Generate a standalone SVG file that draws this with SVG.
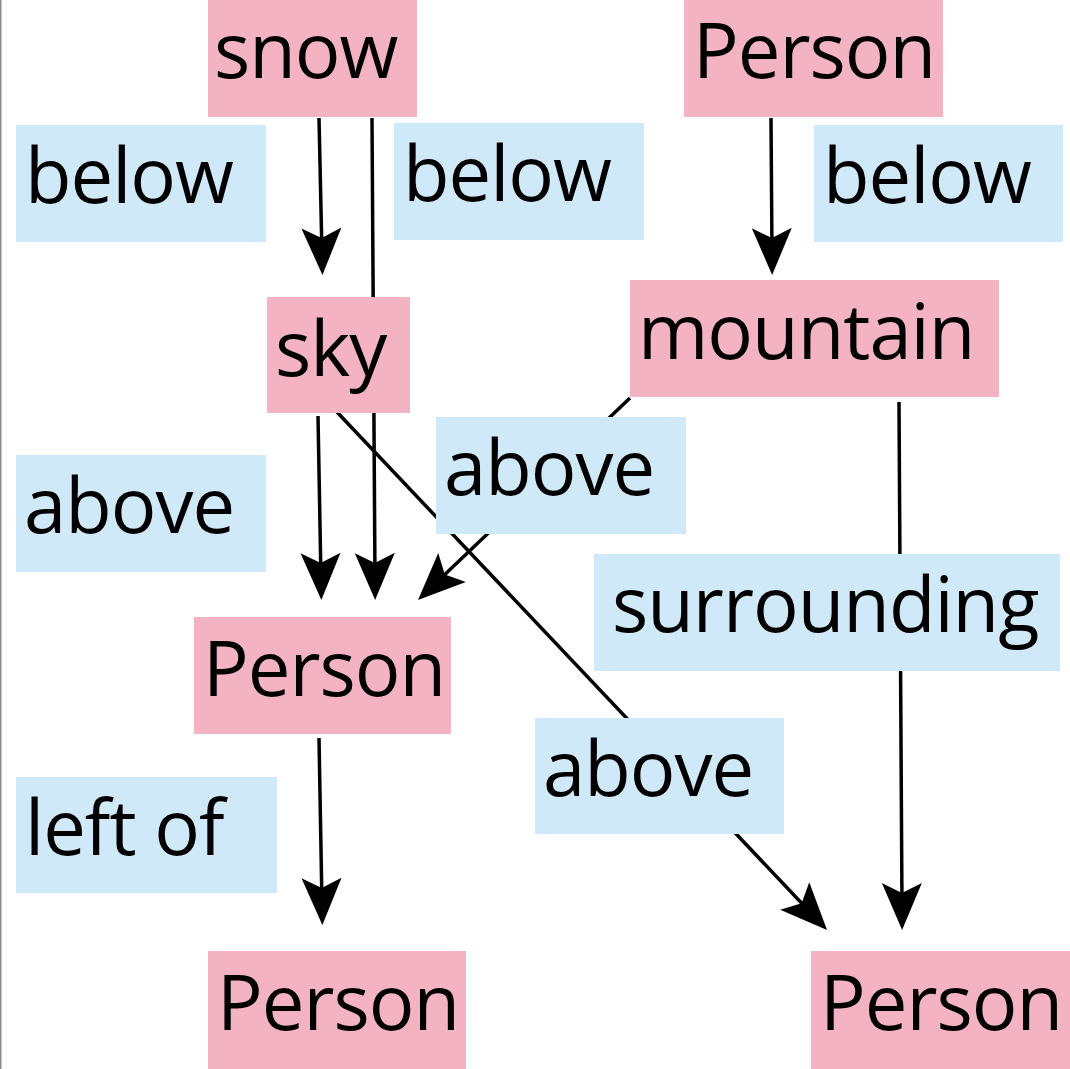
<svg xmlns="http://www.w3.org/2000/svg" width="1070" height="1069" viewBox="0 0 1070 1069">
<style>
.node{fill:#F4B3C2}
.lbl{fill:#D0E9F9}
.t{font-family:"Open Sans","Noto Sans","Liberation Sans",sans-serif;font-size:76px;letter-spacing:-1px;fill:#000}
.e{stroke:#000;stroke-width:3.5;fill:none;marker-end:url(#ah)}
</style>
<defs>
<marker id="ah" markerUnits="userSpaceOnUse" markerWidth="52" markerHeight="46" viewBox="-49 -23 52 46" refX="-20" refY="0" orient="auto">
<path d="M0,0 L-47,-20 L-37,0 L-47,20 Z" fill="#000"/>
</marker>
</defs>
<rect x="0" y="0" width="1.5" height="1069" fill="#8a8a8a"/>
<g id="connectors">
<line class="e" x1="319" y1="118" x2="322" y2="255"/>
<line class="e" x1="372" y1="118" x2="375" y2="580"/>
<line class="e" x1="318" y1="416" x2="321" y2="580"/>
<line class="e" x1="336" y1="411" x2="813.3" y2="915.5"/>
<line class="e" x1="630" y1="398" x2="432.5" y2="586.2"/>
<line class="e" x1="899" y1="402" x2="902" y2="910"/>
<line class="e" x1="771" y1="118" x2="772" y2="255"/>
<line class="e" x1="319" y1="738" x2="322" y2="905"/>
</g>
<g id="n-snow"><rect class="node" x="208" y="0" width="209" height="117"/><text class="t" x="214" y="78">snow</text></g>
<g id="n-person-top"><rect class="node" x="684" y="0" width="259" height="117"/><text class="t" x="693" y="78">Person</text></g>
<g id="n-sky"><rect class="node" x="267" y="297" width="143" height="116"/><text class="t" x="275" y="376">sky</text></g>
<g id="n-mountain"><rect class="node" x="630" y="280" width="369" height="117"/><text class="t" x="638" y="359">mountain</text></g>
<g id="n-person-mid"><rect class="node" x="194" y="617" width="257" height="117"/><text class="t" x="203" y="696">Person</text></g>
<g id="n-person-bl"><rect class="node" x="208" y="951" width="258" height="118"/><text class="t" x="217" y="1030">Person</text></g>
<g id="n-person-br"><rect class="node" x="811" y="951" width="259" height="118"/><text class="t" x="820" y="1030">Person</text></g>
<g id="edge-labels">
<g><rect class="lbl" x="16" y="125" width="250" height="117"/><text class="t" x="25" y="203">below</text></g>
<g><rect class="lbl" x="394" y="123" width="250" height="117"/><text class="t" x="403" y="201">below</text></g>
<g><rect class="lbl" x="814" y="125" width="249" height="117"/><text class="t" x="823" y="203">below</text></g>
<g><rect class="lbl" x="16" y="455" width="250" height="117"/><text class="t" x="24" y="533">above</text></g>
<g><rect class="lbl" x="436" y="417" width="250" height="117"/><text class="t" x="444" y="495">above</text></g>
<g><rect class="lbl" x="594" y="554" width="466" height="117"/><text class="t" x="612" y="632">surrounding</text></g>
<g><rect class="lbl" x="535" y="718" width="249" height="116"/><text class="t" x="543" y="796">above</text></g>
<g><rect class="lbl" x="16" y="777" width="261" height="116"/><text class="t" x="25" y="855">left of</text></g>
</g>
</svg>
